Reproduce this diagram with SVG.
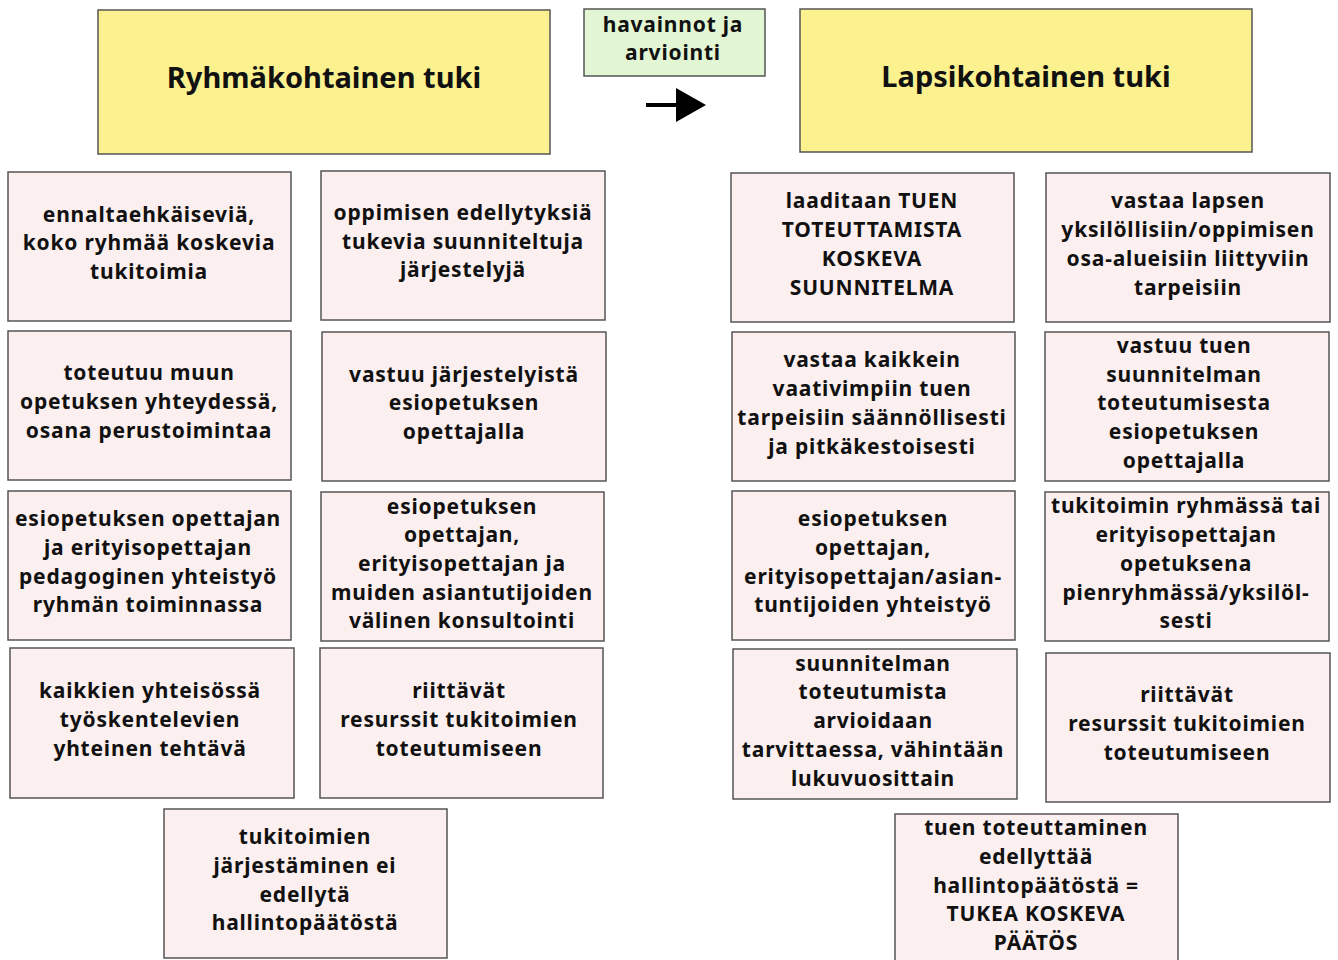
<svg xmlns="http://www.w3.org/2000/svg" width="1338" height="960" viewBox="0 0 1338 960">
<style>
.hdr{fill:#FBF28F;stroke:#555;stroke-width:1.5}
.obs{fill:#E3F6D4;stroke:#555;stroke-width:1.5}
.box{fill:#FCEFEF;stroke:#555;stroke-width:1.5}
text{font-family:"Noto Sans","DejaVu Sans",sans-serif;font-weight:700;fill:#111;text-anchor:middle}
.t{font-size:21px;letter-spacing:0.8px}
.h{font-size:29px}
</style>
<rect width="1338" height="960" fill="#fff"/>
<g id="hdr-ryhma"><rect class="hdr" x="98" y="10" width="452" height="144"/><text class="h" x="324" y="88">Ryhmäkohtainen tuki</text></g>
<g id="hdr-havainnot"><rect class="obs" x="584" y="9" width="181" height="67"/><text class="t" x="673" y="32">havainnot ja</text><text class="t" x="673" y="60">arviointi</text></g>
<g id="hdr-lapsi"><rect class="hdr" x="800" y="9" width="452" height="143"/><text class="h" x="1026" y="87">Lapsikohtainen tuki</text></g>
<g id="connectors"><line x1="646" y1="105" x2="680" y2="105" stroke="#000" stroke-width="4"/><polygon points="676,88 706,105 676,122" fill="#000"/></g>
<g id="l1a"><rect class="box" x="8" y="172" width="283" height="149"/><text class="t" x="149" y="222">ennaltaehkäiseviä,</text><text class="t" x="149" y="250">koko ryhmää koskevia</text><text class="t" x="149" y="279">tukitoimia</text></g>
<g id="l1b"><rect class="box" x="321" y="171" width="284" height="149"/><text class="t" x="463" y="220">oppimisen edellytyksiä</text><text class="t" x="463" y="249">tukevia suunniteltuja</text><text class="t" x="463" y="277">järjestelyjä</text></g>
<g id="l2a"><rect class="box" x="8" y="331" width="283" height="149"/><text class="t" x="149" y="380">toteutuu muun</text><text class="t" x="149" y="409">opetuksen yhteydessä,</text><text class="t" x="149" y="438">osana perustoimintaa</text></g>
<g id="l2b"><rect class="box" x="322" y="332" width="284" height="149"/><text class="t" x="464" y="382">vastuu järjestelyistä</text><text class="t" x="464" y="410">esiopetuksen</text><text class="t" x="464" y="439">opettajalla</text></g>
<g id="l3a"><rect class="box" x="8" y="491" width="283" height="149"/><text class="t" x="148" y="526">esiopetuksen opettajan</text><text class="t" x="148" y="555">ja erityisopettajan</text><text class="t" x="148" y="584">pedagoginen yhteistyö</text><text class="t" x="148" y="612">ryhmän toiminnassa</text></g>
<g id="l3b"><rect class="box" x="321" y="492" width="283" height="149"/><text class="t" x="462" y="514">esiopetuksen</text><text class="t" x="462" y="542">opettajan,</text><text class="t" x="462" y="571">erityisopettajan  ja</text><text class="t" x="462" y="600">muiden asiantutijoiden</text><text class="t" x="462" y="628">välinen konsultointi</text></g>
<g id="l4a"><rect class="box" x="10" y="648" width="284" height="150"/><text class="t" x="150" y="698">kaikkien yhteisössä</text><text class="t" x="150" y="727">työskentelevien</text><text class="t" x="150" y="756">yhteinen tehtävä</text></g>
<g id="l4b"><rect class="box" x="320" y="648" width="283" height="150"/><text class="t" x="459" y="698">riittävät</text><text class="t" x="459" y="727">resurssit tukitoimien</text><text class="t" x="459" y="756">toteutumiseen</text></g>
<g id="l5"><rect class="box" x="164" y="809" width="283" height="149"/><text class="t" x="305" y="844">tukitoimien</text><text class="t" x="305" y="873">järjestäminen ei</text><text class="t" x="305" y="902">edellytä</text><text class="t" x="305" y="930">hallintopäätöstä</text></g>
<g id="r1a"><rect class="box" x="731" y="173" width="283" height="149"/><text class="t" x="872" y="208">laaditaan TUEN</text><text class="t" x="872" y="237">TOTEUTTAMISTA</text><text class="t" x="872" y="266">KOSKEVA</text><text class="t" x="872" y="295">SUUNNITELMA</text></g>
<g id="r1b"><rect class="box" x="1046" y="173" width="284" height="149"/><text class="t" x="1188" y="208">vastaa lapsen</text><text class="t" x="1188" y="237">yksilöllisiin/oppimisen</text><text class="t" x="1188" y="266">osa-alueisiin liittyviin</text><text class="t" x="1188" y="295">tarpeisiin</text></g>
<g id="r2a"><rect class="box" x="732" y="332" width="283" height="149"/><text class="t" x="872" y="367">vastaa kaikkein</text><text class="t" x="872" y="396">vaativimpiin tuen</text><text class="t" x="872" y="425">tarpeisiin säännöllisesti</text><text class="t" x="872" y="454">ja pitkäkestoisesti</text></g>
<g id="r2b"><rect class="box" x="1045" y="332" width="284" height="149"/><text class="t" x="1184" y="353">vastuu tuen</text><text class="t" x="1184" y="382">suunnitelman</text><text class="t" x="1184" y="410">toteutumisesta</text><text class="t" x="1184" y="439">esiopetuksen</text><text class="t" x="1184" y="468">opettajalla</text></g>
<g id="r3a"><rect class="box" x="732" y="491" width="283" height="149"/><text class="t" x="873" y="526">esiopetuksen</text><text class="t" x="873" y="555">opettajan,</text><text class="t" x="873" y="584">erityisopettajan/asian-</text><text class="t" x="873" y="612">tuntijoiden yhteistyö</text></g>
<g id="r3b"><rect class="box" x="1045" y="492" width="284" height="149"/><text class="t" x="1186" y="513">tukitoimin ryhmässä tai</text><text class="t" x="1186" y="542">erityisopettajan</text><text class="t" x="1186" y="571">opetuksena</text><text class="t" x="1186" y="600">pienryhmässä/yksilöl-</text><text class="t" x="1186" y="628">sesti</text></g>
<g id="r4a"><rect class="box" x="733" y="649" width="284" height="150"/><text class="t" x="873" y="671">suunnitelman</text><text class="t" x="873" y="699">toteutumista</text><text class="t" x="873" y="728">arvioidaan</text><text class="t" x="873" y="757">tarvittaessa, vähintään</text><text class="t" x="873" y="786">lukuvuosittain</text></g>
<g id="r4b"><rect class="box" x="1046" y="653" width="284" height="149"/><text class="t" x="1187" y="702">riittävät</text><text class="t" x="1187" y="731">resurssit tukitoimien</text><text class="t" x="1187" y="760">toteutumiseen</text></g>
<g id="r5"><rect class="box" x="895" y="814" width="283" height="152"/><text class="t" x="1036" y="835">tuen toteuttaminen</text><text class="t" x="1036" y="864">edellyttää</text><text class="t" x="1036" y="893">hallintopäätöstä =</text><text class="t" x="1036" y="921">TUKEA KOSKEVA</text><text class="t" x="1036" y="950">PÄÄTÖS</text></g>
</svg>
